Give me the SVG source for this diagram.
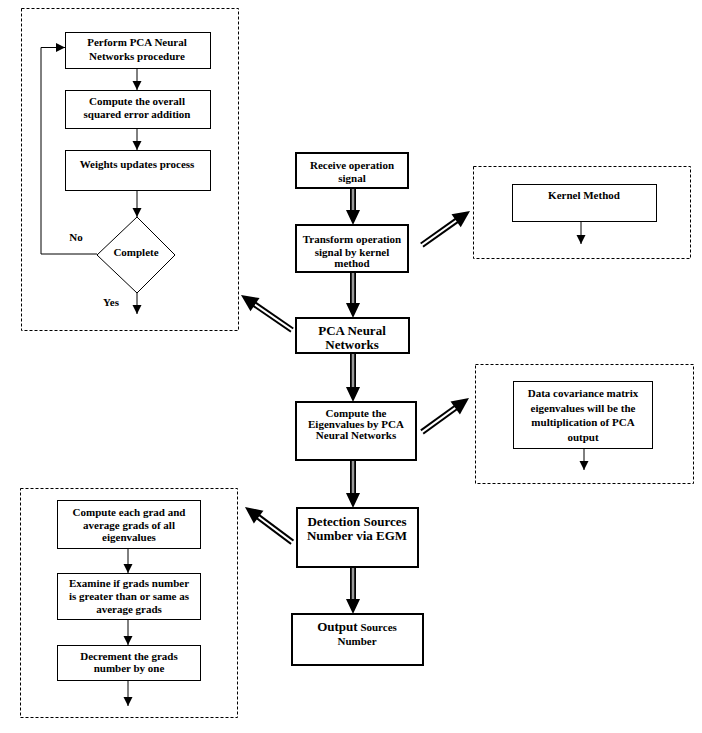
<svg xmlns="http://www.w3.org/2000/svg" width="702" height="733" viewBox="0 0 702 733">
<defs>
<style>
.dash{fill:none;stroke:#000;stroke-width:1;stroke-dasharray:3,2}
.box{fill:#fff;stroke:#000;stroke-width:1}
.mbox{fill:#fff;stroke:#000;stroke-width:2}
.t{font-family:"Liberation Serif","Times New Roman",serif;font-weight:bold;font-size:11px;text-anchor:middle;fill:#000}
.tl{font-family:"Liberation Serif","Times New Roman",serif;font-weight:bold;font-size:13px;text-anchor:middle;fill:#000}
.thin{fill:none;stroke:#000;stroke-width:1}
.so{stroke:#000;stroke-width:6;fill:none}
.si{stroke:#999;stroke-width:2.5;fill:none}
.sw{stroke:#fff;stroke-width:2;fill:none}
</style>
<marker id="ah" markerWidth="10" markerHeight="10" refX="9" refY="4.5" orient="auto" markerUnits="userSpaceOnUse">
<path d="M0,0 L9,4.5 L0,9 Z" fill="#000"/>
</marker>
</defs>

<g id="frames">
<rect class="dash" x="21.5" y="8.5" width="217" height="322"/>
<rect class="dash" x="473.5" y="166.5" width="217" height="92"/>
<rect class="dash" x="475.5" y="364.5" width="218" height="119"/>
<rect class="dash" x="20.5" y="488.5" width="217" height="229"/>
</g>

<g id="connectors">
<line class="thin" x1="137" y1="68" x2="137" y2="90" marker-end="url(#ah)"/>
<line class="thin" x1="137" y1="128" x2="137" y2="150" marker-end="url(#ah)"/>
<line class="thin" x1="137" y1="190" x2="137" y2="217" marker-end="url(#ah)"/>
<line class="thin" x1="137" y1="293" x2="137" y2="314" marker-end="url(#ah)"/>
<polyline class="thin" points="97,254 41,254 41,47.5 65,47.5" marker-end="url(#ah)"/>
<line class="thin" x1="581" y1="221" x2="581" y2="244" marker-end="url(#ah)"/>
<line class="thin" x1="584" y1="448" x2="584" y2="470" marker-end="url(#ah)"/>
<line class="thin" x1="128" y1="548" x2="128" y2="573" marker-end="url(#ah)"/>
<line class="thin" x1="128" y1="619" x2="128" y2="645" marker-end="url(#ah)"/>
<line class="thin" x1="128" y1="680" x2="128" y2="706" marker-end="url(#ah)"/>

<g transform="translate(353,225) rotate(90)"><line class="so" x1="-37" y1="0" x2="-12" y2="0"/><line class="si" x1="-37" y1="0" x2="-12" y2="0"/><path d="M0,0 L-15,-7 L-15,7 Z"/></g>
<g transform="translate(353,318) rotate(90)"><line class="so" x1="-46" y1="0" x2="-12" y2="0"/><line class="si" x1="-46" y1="0" x2="-12" y2="0"/><path d="M0,0 L-15,-7 L-15,7 Z"/></g>
<g transform="translate(353,402) rotate(90)"><line class="so" x1="-49" y1="0" x2="-12" y2="0"/><line class="si" x1="-49" y1="0" x2="-12" y2="0"/><path d="M0,0 L-15,-7 L-15,7 Z"/></g>
<g transform="translate(353,508) rotate(90)"><line class="so" x1="-48" y1="0" x2="-12" y2="0"/><line class="si" x1="-48" y1="0" x2="-12" y2="0"/><path d="M0,0 L-15,-7 L-15,7 Z"/></g>
<g transform="translate(353,614) rotate(90)"><line class="so" x1="-47" y1="0" x2="-12" y2="0"/><line class="si" x1="-47" y1="0" x2="-12" y2="0"/><path d="M0,0 L-15,-7 L-15,7 Z"/></g>

<g transform="translate(470,211) rotate(-35.3)"><line class="so" x1="-59" y1="0" x2="-13" y2="0"/><line class="sw" x1="-60" y1="0" x2="-13" y2="0"/><path d="M0,0 L-17,-8 L-17,8 Z"/></g>
<g transform="translate(469,398) rotate(-35.9)"><line class="so" x1="-58" y1="0" x2="-13" y2="0"/><line class="sw" x1="-59" y1="0" x2="-13" y2="0"/><path d="M0,0 L-17,-8 L-17,8 Z"/></g>
<g transform="translate(241,295) rotate(-145.5)"><line class="so" x1="-62" y1="0" x2="-13" y2="0"/><line class="sw" x1="-63" y1="0" x2="-13" y2="0"/><path d="M0,0 L-17,-8 L-17,8 Z"/></g>
<g transform="translate(245,507) rotate(-143.3)"><line class="so" x1="-59" y1="0" x2="-13" y2="0"/><line class="sw" x1="-60" y1="0" x2="-13" y2="0"/><path d="M0,0 L-17,-8 L-17,8 Z"/></g>
</g>

<g id="n-perform"><rect class="box" x="65.5" y="32.5" width="145" height="36"/>
<text class="t" x="137" y="46">Perform PCA Neural</text><text class="t" x="137" y="60">Networks procedure</text></g>
<g id="n-sqerr"><rect class="box" x="65.5" y="90.5" width="145" height="38"/>
<text class="t" x="137" y="105">Compute the overall</text><text class="t" x="137" y="118">squared error addition</text></g>
<g id="n-weights"><rect class="box" x="65.5" y="150.5" width="145" height="40"/>
<text class="t" x="137" y="168">Weights updates process</text></g>
<g id="n-complete"><polygon class="box" points="137,217 175,255 137,293 97,255"/>
<text class="t" x="136" y="256">Complete</text></g>
<g id="lbl-no"><text class="t" x="76" y="241">No</text></g>
<g id="lbl-yes"><text class="t" x="111" y="306">Yes</text></g>

<g id="n-receive"><rect class="mbox" x="296" y="153" width="112" height="35"/>
<text class="t" x="352" y="169">Receive operation</text><text class="t" x="352" y="182">signal</text></g>
<g id="n-transform"><rect class="mbox" x="296" y="225" width="112" height="47"/>
<text class="t" x="352" y="243">Transform operation</text><text class="t" x="352" y="256">signal by kernel</text><text class="t" x="352" y="267">method</text></g>
<g id="n-pca"><rect class="mbox" x="296" y="318" width="113" height="35"/>
<text class="tl" x="352" y="335">PCA Neural</text><text class="tl" x="352" y="349">Networks</text></g>
<g id="n-eigen"><rect class="mbox" x="296" y="402" width="120" height="58"/>
<text class="t" x="356" y="417">Compute the</text><text class="t" x="356" y="428">Eigenvalues by PCA</text><text class="t" x="356" y="439">Neural Networks</text></g>
<g id="n-detect"><rect class="mbox" x="297" y="508" width="121" height="59"/>
<text class="tl" x="357" y="526">Detection Sources</text><text class="tl" x="357" y="540">Number via EGM</text></g>
<g id="n-output"><rect class="mbox" x="292" y="614" width="131" height="51"/>
<text class="t" x="357" y="631"><tspan style="font-size:13px">Output</tspan> Sources</text><text class="t" x="357" y="645">Number</text></g>

<g id="n-kernel"><rect class="box" x="512.5" y="184.5" width="144" height="37"/>
<text class="t" x="584" y="199">Kernel Method</text></g>
<g id="n-datacov"><rect class="box" x="513.5" y="381.5" width="139" height="67"/>
<text class="t" x="583" y="397">Data covariance matrix</text><text class="t" x="583" y="412">eigenvalues will be the</text><text class="t" x="583" y="426">multiplication of PCA</text><text class="t" x="583" y="441">output</text></g>

<g id="n-grad"><rect class="box" x="57.5" y="500.5" width="143" height="48"/>
<text class="t" x="129" y="516">Compute each grad and</text><text class="t" x="129" y="529">average grads of all</text><text class="t" x="129" y="541">eigenvalues</text></g>
<g id="n-examine"><rect class="box" x="57.5" y="573.5" width="143" height="46"/>
<text class="t" x="129" y="587">Examine if grads number</text><text class="t" x="129" y="600">is greater than or same as</text><text class="t" x="129" y="613">average grads</text></g>
<g id="n-decrement"><rect class="box" x="57.5" y="645.5" width="143" height="35"/>
<text class="t" x="129" y="660">Decrement the grads</text><text class="t" x="129" y="672">number by one</text></g>
</svg>
